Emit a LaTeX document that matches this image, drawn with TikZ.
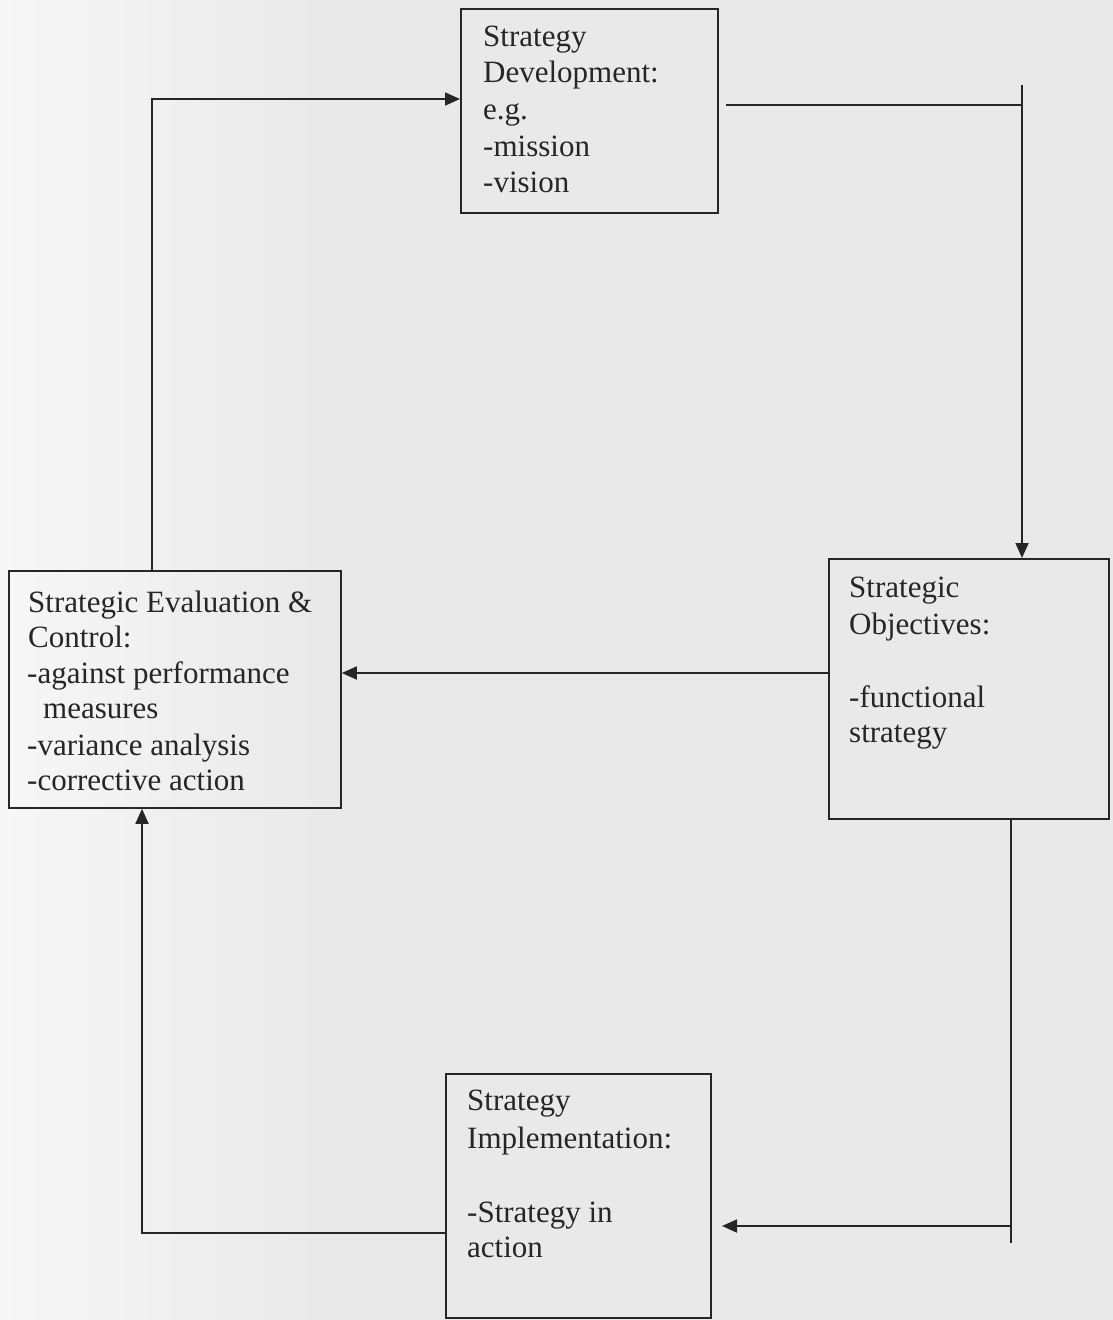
\documentclass[tikz,border=0pt]{standalone}
\usepackage{fontspec}
\setmainfont{Liberation Serif}
\usetikzlibrary{arrows.meta}
\definecolor{ink}{RGB}{38,38,38}
\definecolor{paper}{RGB}{233,233,233}
\definecolor{paperlight}{RGB}{247,247,247}
\begin{document}
\begin{tikzpicture}[x=1pt,y=-1pt,
  box/.style={draw=ink,line width=1.8pt,rectangle,inner sep=0pt,anchor=north west},
  txt/.style={anchor=base west,inner sep=0pt,text=ink,font=\fontsize{31}{36}\selectfont},
  conn/.style={draw=ink,line width=1.8pt},
  arr/.style={conn,-{Triangle[length=15pt,width=13pt]}}]
% background
\fill[paper] (0,0) rectangle (1113,1320);
\shade[left color=paperlight,right color=paper] (0,0) rectangle (320,1320);
\useasboundingbox (0,0) rectangle (1113,1320);

% boxes
\node[box,minimum width=257pt,minimum height=204pt] (sd) at (460,8) {};
\node[box,minimum width=332pt,minimum height=237pt] (se) at (8,570) {};
\node[box,minimum width=280pt,minimum height=260pt] (so) at (828,558) {};
\node[box,minimum width=265pt,minimum height=244pt] (si) at (445,1073) {};

% Strategy Development text
\node[txt] (sd1) at (483,46) {Strategy};
\node[txt] (sd2) at (483,82) {Development:};
\node[txt] (sd3) at (483,119) {e.g.};
\node[txt] (sd4) at (483,156) {-mission};
\node[txt] (sd5) at (483,192) {-vision};

% Strategic Evaluation & Control text
\node[txt] (se1) at (28,612) {Strategic Evaluation \&};
\node[txt] (se2) at (28,647) {Control:};
\node[txt] (se3) at (27,683) {-against performance};
\node[txt] (se4) at (43,718) {measures};
\node[txt] (se5) at (27,755) {-variance analysis};
\node[txt] (se6) at (27,790) {-corrective action};

% Strategic Objectives text
\node[txt] (so1) at (849,597) {Strategic};
\node[txt] (so2) at (849,634) {Objectives:};
\node[txt] (so3) at (849,707) {-functional};
\node[txt] (so4) at (849,742) {strategy};

% Strategy Implementation text
\node[txt] (si1) at (467,1110) {Strategy};
\node[txt] (si2) at (467,1148) {Implementation:};
\node[txt] (si3) at (467,1222) {-Strategy in};
\node[txt] (si4) at (467,1257) {action};

% connector coordinates
\coordinate (c1) at (152,99);
\coordinate (c2s) at (726,105);
\coordinate (c2) at (1022,105);
\coordinate (c2top) at (1022,85);
\coordinate (c3) at (0,673);
\coordinate (c4) at (1011,1226);
\coordinate (c4bot) at (1011,1243);
\coordinate (c4tip) at (722,1226);
\coordinate (c5) at (142,1233);

% 1: evaluation -> development
\draw[arr] (c1 |- se.north) |- (sd.west |- c1);
% 2: development -> objectives
\draw[conn] (c2s) -- (c2);
\draw[arr] (c2top) -- (c2top |- so.north);
% 3: objectives -> evaluation
\draw[arr] (so.west |- c3) -- (se.east |- c3);
% 4: objectives -> implementation
\draw[conn] (c4 |- so.south) -- (c4bot);
\draw[arr] (c4) -- (c4tip);
% 5: implementation -> evaluation
\draw[arr] (si.west |- c5) -| (se.south -| c5);
\end{tikzpicture}
\end{document}
